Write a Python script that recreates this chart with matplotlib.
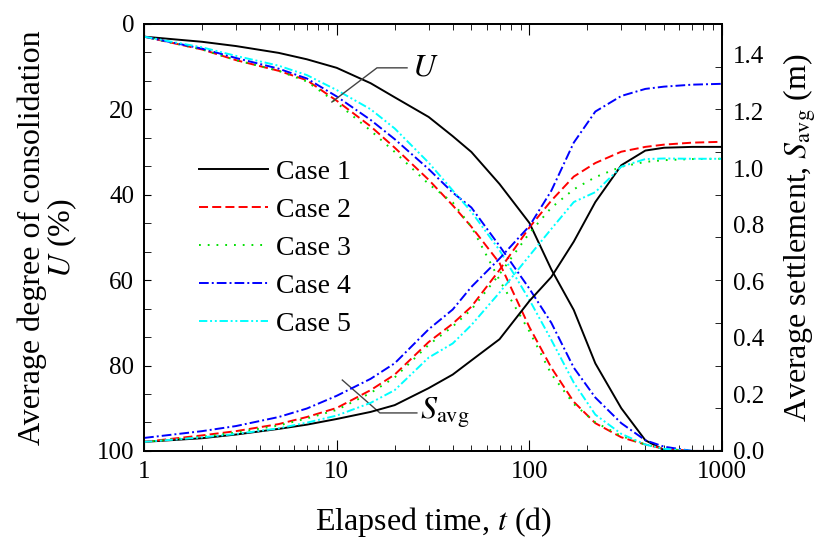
import numpy as np
import matplotlib
matplotlib.use("Agg")
import matplotlib.pyplot as plt

plt.rcParams['font.family'] = ['Liberation Serif', 'DejaVu Serif']
plt.rcParams['mathtext.fontset'] = 'stix'
plt.rcParams['lines.scale_dashes'] = False

# elapsed time (d)
t = [1, 2, 3, 5, 7, 10, 15, 20, 30, 40, 50, 70, 100, 130, 170, 220, 300, 400, 500, 700, 1000]

# average degree of consolidation U (%)
u_case1 = [3, 4.2, 5.2, 6.8, 8.3, 10.3, 13.9, 17.2, 21.8, 26.3, 30, 37.5, 46.6, 57.5, 67, 79.5, 90, 97.5, 99.8, 100, 100]
u_case2 = [3, 6, 8.5, 11, 13.2, 18, 24, 29, 36.5, 42.5, 47.5, 56, 71, 80.5, 88.5, 93.5, 96.8, 98.5, 99.5, 100, 100]
u_case3 = [3, 6, 8.5, 11, 13.5, 18.5, 25, 30, 37.5, 41.8, 47.5, 60, 72, 82, 89, 93.3, 96.5, 98.5, 99.5, 100, 100]
u_case4 = [3, 5.8, 8, 10.5, 12.8, 17, 22.5, 27, 34, 39.5, 43, 52, 62, 70, 80.5, 87.5, 93.5, 97.5, 99, 100, 100]
u_case5 = [3, 5.5, 7.5, 9.8, 12, 15.5, 20, 24.5, 32.5, 39, 44, 53, 64.6, 74, 84, 91.5, 96, 98.5, 99.5, 100, 100]

# average settlement S_avg (m)
s_case1 = [0.032, 0.045, 0.058, 0.078, 0.093, 0.113, 0.138, 0.162, 0.222, 0.27, 0.32, 0.395, 0.53, 0.615, 0.74, 0.88, 1.01, 1.062, 1.072, 1.075, 1.075]
s_case2 = [0.032, 0.055, 0.07, 0.095, 0.12, 0.152, 0.215, 0.27, 0.385, 0.45, 0.51, 0.64, 0.79, 0.885, 0.97, 1.018, 1.058, 1.075, 1.083, 1.09, 1.093]
s_case3 = [0.032, 0.05, 0.065, 0.09, 0.115, 0.145, 0.205, 0.26, 0.375, 0.44, 0.5, 0.625, 0.77, 0.86, 0.925, 0.968, 1.005, 1.022, 1.028, 1.032, 1.033]
s_case4 = [0.046, 0.07, 0.088, 0.12, 0.15, 0.195, 0.255, 0.31, 0.43, 0.5, 0.58, 0.68, 0.795, 0.92, 1.09, 1.2, 1.255, 1.28, 1.288, 1.295, 1.298]
s_case5 = [0.032, 0.048, 0.06, 0.08, 0.1, 0.125, 0.17, 0.215, 0.33, 0.38, 0.445, 0.56, 0.69, 0.785, 0.88, 0.915, 1.005, 1.032, 1.034, 1.033, 1.033]

labels = ["Case 1", "Case 2", "Case 3", "Case 4", "Case 5"]
colors = ["black", "#ff0000", "#00e000", "#0000ff", "#00ffff"]
styles = ["-", (0, (6.5, 3)), (0, (1.3, 5)), (0, (7, 2.2, 1.4, 2.2)), (0, (6, 2, 1.4, 2, 1.4, 2))]
u_all = [u_case1, u_case2, u_case3, u_case4, u_case5]
s_all = [s_case1, s_case2, s_case3, s_case4, s_case5]

fig = plt.figure(figsize=(8.28, 5.42), dpi=100)
ax = fig.add_axes([0.174, 0.168, 0.698, 0.788])
ax2 = ax.twinx()

for u, s, lab, c, ls in zip(u_all, s_all, labels, colors, styles):
    ax.semilogx(t, u, color=c, linestyle=ls, linewidth=1.4, label=lab)
    ax2.plot(t, s, color=c, linestyle=ls, linewidth=1.4)

ax.set_xlim(1, 1000)
ax.set_ylim(100, 0)
ax.set_yticks([0, 20, 40, 60, 80, 100])
ax.set_yticks(np.arange(0, 101, 20 / 3), minor=True)
ax.set_xticks([1, 10, 100, 1000])
ax.set_xticklabels(["1", "10", "100", "1000"])
ax.tick_params(axis='x', which='both', direction='in', top=True, labelsize=18, pad=7)
ax.tick_params(axis='x', which='major', length=8)
ax.tick_params(axis='x', which='minor', length=4)
ax.tick_params(axis='y', which='both', direction='in', length=5, right=False, labelsize=18, pad=7)

ax2.set_ylim(0, 1.51)
ax2.set_yticks([0.0, 0.2, 0.4, 0.6, 0.8, 1.0, 1.2, 1.4])
ax2.set_yticklabels(["0.0", "0.2", "0.4", "0.6", "0.8", "1.0", "1.2", "1.4"])
ax2.set_yticks(np.linspace(0, 1.51, 11), minor=True)
ax2.tick_params(axis='y', which='major', length=0, labelsize=18, pad=8)
ax2.tick_params(axis='y', which='minor', direction='in', length=5)

for a in (ax, ax2):
    for sp in a.spines.values():
        sp.set_linewidth(1.3)

fig.text(0.5 * (0.174 + 0.872), 0.037, "Elapsed time, $t$ (d)", fontsize=23, ha='center', va='center')
fig.text(0.058, 0.561, "Average degree of consolidation\n$U$ (%)", fontsize=23,
         rotation=90, ha='center', va='center', linespacing=0.95, multialignment='center')
fig.text(0.966, 0.561, "Average settlement, $S_{\\rm avg}$ (m)", fontsize=23,
         rotation=90, ha='center', va='center')

ax.legend(loc='upper left', bbox_to_anchor=(0.075, 0.708), frameon=False, fontsize=20,
          handlelength=2.5, handletextpad=0.3, labelspacing=0.45, borderaxespad=0)

# leader lines and curve labels
lead = dict(color="#444444", linewidth=1.0, transform=ax.transAxes)
ax.plot([0.325, 0.403, 0.455], [0.817, 0.897, 0.897], **lead)
ax.text(0.464, 0.897, "$U$", transform=ax.transAxes, fontsize=23, va='center', ha='left')
ax.plot([0.343, 0.408, 0.472], [0.166, 0.089, 0.089], **lead)
ax.text(0.478, 0.089, "$S_{\\rm avg}$", transform=ax.transAxes, fontsize=23, va='center', ha='left')

fig.savefig("out.png", dpi=100)
